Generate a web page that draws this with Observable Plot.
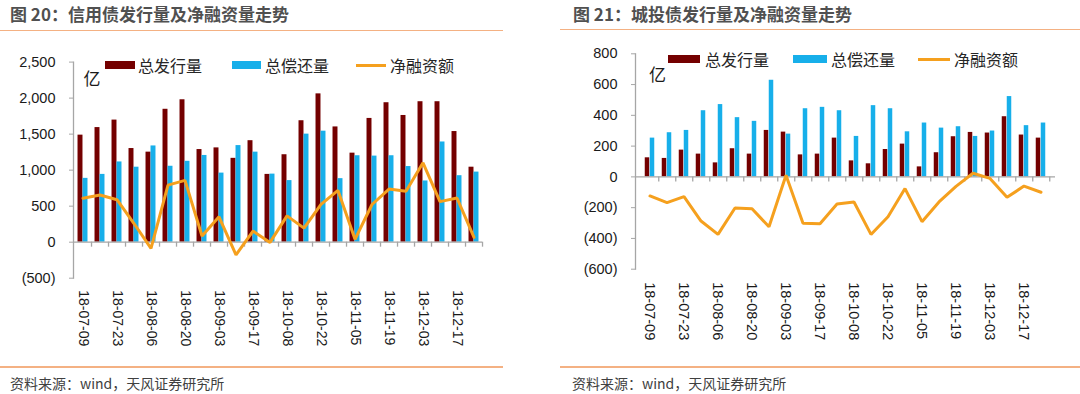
<!DOCTYPE html>
<html><head><meta charset="utf-8">
<script src="https://cdn.jsdelivr.net/npm/d3@7"></script>
<script src="https://cdn.jsdelivr.net/npm/@observablehq/plot@0.6"></script>
<style>
body{margin:0;width:1080px;height:394px;position:relative;background:#fff;overflow:hidden;font-family:"Liberation Sans",Arial,"Noto Sans CJK SC",sans-serif;}
.abs{position:absolute;}
.title{font-family:"Noto Sans CJK SC",sans-serif;font-weight:700;font-size:17px;color:#505050;line-height:20px;white-space:nowrap;}
.rule{height:1.5px;background:#F4B183;}
.src{font-family:"Noto Sans CJK SC",sans-serif;font-size:14px;color:#404040;line-height:18px;white-space:nowrap;}
.legtxt{font-family:"Noto Sans CJK SC",sans-serif;font-size:16px;color:#262626;line-height:20px;white-space:nowrap;}
.chart{top:40px;}
</style></head>
<body>
<div id="root"></div>
<script>
// ---- data ----
const dates = ["18-07-09","18-07-16","18-07-23","18-07-30","18-08-06","18-08-13","18-08-20","18-08-27","18-09-03","18-09-10","18-09-17","18-09-24","18-10-08","18-10-15","18-10-22","18-10-29","18-11-05","18-11-12","18-11-19","18-11-26","18-12-03","18-12-10","18-12-17","18-12-24"];
const tickLabels = ["18-07-09","18-07-23","18-08-06","18-08-20","18-09-03","18-09-17","18-10-08","18-10-22","18-11-05","18-11-19","18-12-03","18-12-17"];
const seriesNames = ["总发行量","总偿还量","净融资额"];

const creditIssue = [1486,1591,1695,1300,1250,1845,1977,1286,1309,1164,1409,941,1214,1686,2059,1600,1236,1718,1936,1759,1950,1950,1536,1041];
const creditRepay = [886,941,1114,1041,1336,1054,1123,1204,959,1341,1250,945,855,1500,1541,882,1200,1195,1200,1050,850,1391,923,973];
const creditNet   = [610,655,590,259,-86,792,858,85,352,-175,155,-3,365,195,525,718,40,523,738,707,1102,563,613,68];
const creditTicks = [-500,0,500,1000,1500,2000,2500];

const ctIssue = [124,120,174,148,91,183,148,302,291,143,148,252,104,85,178,213,65,157,261,289,285,391,272,252];
const ctRepay = [252,287,302,430,470,385,361,628,278,443,452,430,263,463,443,293,350,317,326,263,298,522,333,350];
const ctNet   = [-124,-167,-128,-287,-374,-202,-207,-324,11,-302,-304,-176,-163,-374,-259,-76,-291,-163,-62,24,-10,-133,-60,-100];
const ctTicks = [-600,-400,-200,0,200,400,600,800];

const titles = ["图 20：信用债发行量及净融资量走势","图 21：城投债发行量及净融资量走势"];
const source = "资料来源：wind，天风证券研究所";

// ---- style ----
const C_ISSUE = "#740000", C_REPAY = "#17AFEA", C_NET = "#F5A01E", C_AXIS = "#A6A6A6";

const root = document.getElementById("root");
function el(cls, css, text) {
  const d = document.createElement("div");
  d.className = "abs " + cls;
  Object.assign(d.style, css);
  if (text != null) d.textContent = text;
  root.appendChild(d);
  return d;
}
const fmt = d3.format(",");
const tf = d => d < 0 ? `(${fmt(-d)})` : fmt(d);

function makeChart(cfg) {
  const rows = dates.map((d, i) => ({date: d, issue: cfg.issue[i], repay: cfg.repay[i], net: cfg.net[i]}));
  const W = 540, H = 320;
  const plotW = W - cfg.ml - cfg.mr, plotH = H - cfg.mt - cfg.mb;
  const step = plotW / dates.length;
  const bw = 5;
  const span = cfg.domain[1] - cfg.domain[0];
  const tickUnits = 5 * span / plotH;
  const chart = Plot.plot({
    width: W, height: H,
    marginLeft: cfg.ml, marginRight: cfg.mr, marginTop: cfg.mt, marginBottom: cfg.mb,
    style: {fontFamily: "'Liberation Sans', Arial, sans-serif", fontSize: "14px", color: "#1a1a1a", background: "transparent"},
    x: {type: "band", domain: dates, padding: 0, axis: null, label: null},
    y: {domain: cfg.domain, axis: null, label: null},
    marks: [
      Plot.barY(rows, {x: "date", y: "issue", fill: C_ISSUE, insetLeft: step/2 - bw, insetRight: step/2}),
      Plot.barY(rows, {x: "date", y: "repay", fill: C_REPAY, insetLeft: step/2, insetRight: step/2 - bw}),
      Plot.frame({anchor: "left", stroke: C_AXIS, strokeWidth: 1.3}),
      Plot.axisY(cfg.ticks, {tickSize: 4, tickPadding: 14, tickFormat: tf, stroke: C_AXIS, fontSize: cfg.yfs, fill: "#1a1a1a", label: null}),
      Plot.ruleY([0], {stroke: C_AXIS, strokeWidth: 1.3}),
      Plot.ruleX(dates, {x: d => d, y1: 0, y2: -tickUnits, dx: step/2, stroke: C_AXIS, strokeWidth: 1.3}),
      Plot.axisX(tickLabels, {tickSize: 0, tickPadding: cfg.xpad, tickRotate: 90, fontSize: cfg.xfs, fill: "#1a1a1a", label: null}),
      Plot.lineY(rows, {x: "date", y: "net", stroke: C_NET, strokeWidth: 3, strokeLinejoin: "miter"}),
      Plot.text(["亿"], {frameAnchor: "top-left", dx: cfg.unitDx, dy: cfg.unitDy, fontSize: 17, fill: "#1a1a1a", fontFamily: "'Noto Sans CJK SC', sans-serif"})
    ]
  });
  const wrap = el("chart", {left: cfg.left + "px"});
  wrap.appendChild(chart);
}

// ---- left panel ----
el("title", {left: "10px", top: "4px"}, titles[0]);
el("rule", {left: "0px", top: "29.5px", width: "503px"});
makeChart({left: 0, ml: 73, mr: 58, mt: 21.6, mb: 82.3, domain: [-500, 2500], ticks: creditTicks,
  issue: creditIssue, repay: creditRepay, net: creditNet, xpad: 12, xfs: 14, yfs: 14.5, unitDx: 10, unitDy: 10.5});
el("rule", {left: "0px", top: "366px", width: "503px"});
el("src", {left: "10px", top: "374px"}, source);

// ---- right panel ----
el("title", {left: "573px", top: "4px"}, titles[1]);
el("rule", {left: "560px", top: "28.5px", width: "520px"});
makeChart({left: 540, ml: 95, mr: 25, mt: 13.3, mb: 91.3, domain: [-600, 800], ticks: ctTicks,
  issue: ctIssue, repay: ctRepay, net: ctNet, xpad: 13, xfs: 14.5, yfs: 14.5, unitDx: 13.5, unitDy: 14.7});
el("rule", {left: "560px", top: "366px", width: "520px"});
el("src", {left: "572px", top: "374px"}, source);

// ---- legends ----
function legend(y, items) {
  items.forEach((it, i) => {
    if (i < 2) el("", {left: it.sx + "px", top: (y - 4) + "px", width: it.sw + "px", height: "8px", background: i === 0 ? C_ISSUE : C_REPAY});
    else el("", {left: it.sx + "px", top: (y - 1.5) + "px", width: it.sw + "px", height: "3px", background: C_NET});
    el("legtxt", {left: it.tx + "px", top: (y - 10) + "px"}, seriesNames[i]);
  });
}
legend(65, [{sx: 105, sw: 30, tx: 138}, {sx: 232, sw: 29, tx: 265}, {sx: 356, sw: 30, tx: 390}]);
legend(59, [{sx: 668, sw: 32, tx: 705}, {sx: 793, sw: 34, tx: 831}, {sx: 918, sw: 32, tx: 954}]);
</script>
</body></html>
